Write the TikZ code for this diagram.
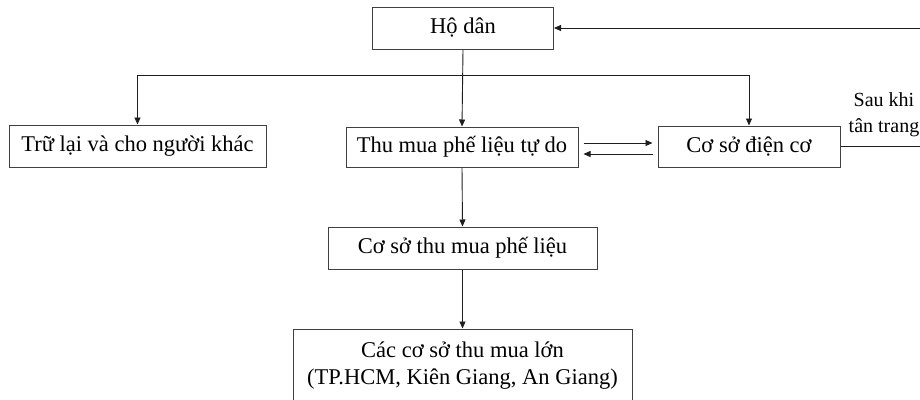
\documentclass[tikz,border=0pt]{standalone}
\usepackage{fontspec}
\setmainfont{Liberation Serif}
\usepackage{tikz}
\usetikzlibrary{arrows.meta,calc}
\definecolor{ink}{RGB}{30,30,30}
\definecolor{boxline}{RGB}{64,64,64}
\tikzset{
  flow/.style={-{Triangle[length=7pt,width=6pt]},line width=0.9pt,draw=ink},
  wire/.style={line width=0.9pt,draw=ink},
  block/.style={draw=boxline,line width=1pt,fill=white,align=center,inner sep=2pt,font=\fontsize{22.5}{27}\selectfont},
  side/.style={align=center,inner sep=0pt,font=\fontsize{20}{26}\selectfont}
}
\begin{document}
\begin{tikzpicture}[x=1pt,y=-1pt]
  \useasboundingbox (0,0) rectangle (920,399);
  \node[block,minimum width=181pt,minimum height=42pt] (hodan) at (463,28) {Hộ dân};
  \node[block,minimum width=257pt,minimum height=42pt] (trulai) at (137.5,146) {Trữ lại và cho người khác};
  \node[block,minimum width=232pt,minimum height=40pt] (thumua) at (462,147) {Thu mua phế liệu tự do};
  \node[block,minimum width=182pt,minimum height=41pt] (dienco) at (749,146.5) {Cơ sở điện cơ};
  \node[block,minimum width=269pt,minimum height=42pt] (cosotm) at (462.5,248) {Cơ sở thu mua phế liệu};
  \node[block,minimum width=339pt,minimum height=74pt] (lon) at (462.5,366) {Các cơ sở thu mua lớn\\(TP.HCM, Kiên Giang, An Giang)};
  \node[side] (tantrang) at (884,115) {Sau khi\\tân trang};
  \coordinate (split) at (463,75);
  \draw[flow] (hodan.south) -- (thumua.north); \draw[flow] (split) -| (trulai.north); \draw[flow] (split) -| (dienco.north);
  \draw[flow] ([xshift=5pt,yshift=4pt]thumua.east) -- ([xshift=-5pt,yshift=3.5pt]dienco.west);
  \draw[flow] ([xshift=-5pt,yshift=-7.5pt]dienco.west) -- ([xshift=5pt,yshift=-7pt]thumua.east);
  \draw[flow] (thumua.south) -- (cosotm.north); \draw[flow] (cosotm.south) -- (lon.north);
  \draw[flow] (dienco.east) -- ++(81,0) |- (hodan.east);
\end{tikzpicture}
\end{document}
